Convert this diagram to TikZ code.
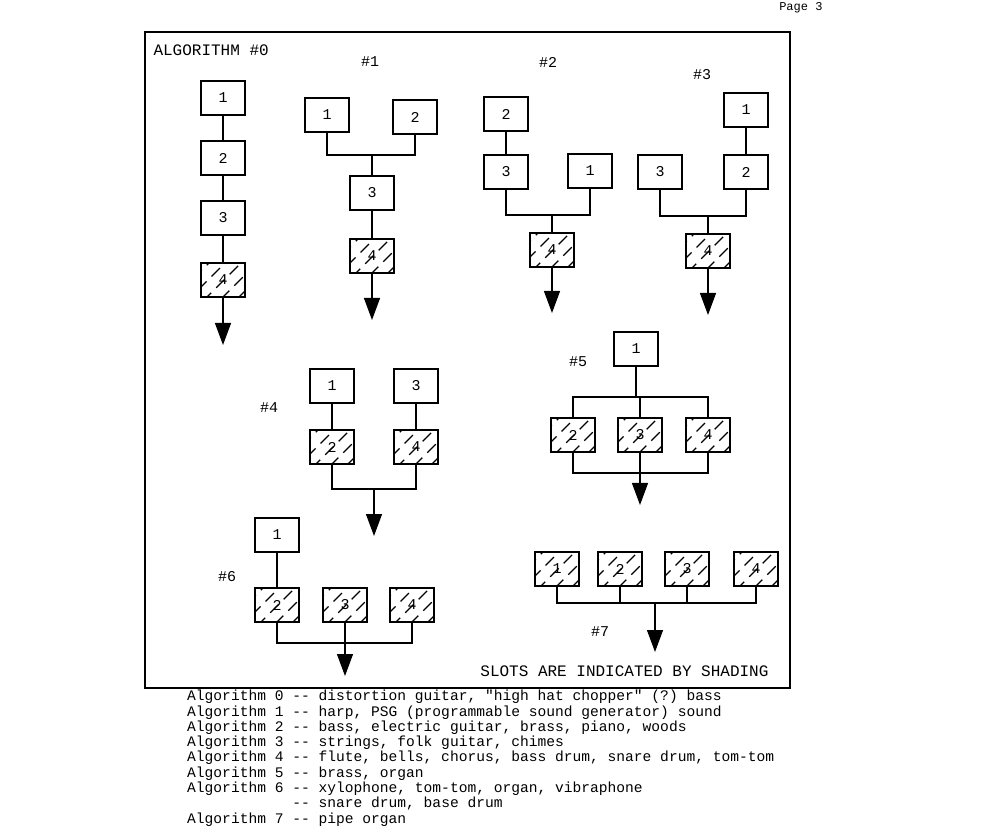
\documentclass[tikz,border=0pt]{standalone}
\usepackage{fontspec}
\setmonofont{Liberation Mono}
\usetikzlibrary{arrows.meta}
\begin{document}
\begin{tikzpicture}[x=1pt,y=-1pt,
  every node/.style={font=\fontsize{15}{15}\ttfamily},
  box/.style={draw,line width=1.2pt,minimum width=44pt,minimum height=34pt,inner sep=0pt},
  sbox/.style={box,path picture={
     \foreach \k in {-42,-26,...,50}{
       \draw[line width=1.1pt,dash pattern=on 12pt off 7pt,dash phase=\k] ([xshift=\k pt]path picture bounding box.south west) -- ++(40,-40);}}},
  ln/.style={line width=1.2pt},
  ar/.style={line width=1.2pt,-{Triangle[width=16pt,length=22pt]}}]
\useasboundingbox (0,0) rectangle (989,834);
\node[anchor=east,font=\fontsize{12}{12}\ttfamily] (pg) at (826,8) {Page 3};
\draw[line width=1.2pt] (145,32) rectangle (790,688);
\node[anchor=west,font=\fontsize{16}{16}\ttfamily] (t0) at (150,50) {ALGORITHM \#0};
% Alg 0
\node[box] (a1) at (223,98) {1};
\node[box] (a2) at (223,158) {2};
\node[box] (a3) at (223,218) {3};
\node[sbox] (a4) at (223,280) {4};
\coordinate (ae) at (223,345);
\draw[ln] (a1)--(a2) (a2)--(a3) (a3)--(a4);
\draw[ar] (a4)--(ae);
% Alg 1
\node (t1) at (370,62) {\#1};
\node[box] (b1) at (327,115) {1};
\node[box] (b2) at (415,117) {2};
\node[box] (b3) at (372,193) {3};
\node[sbox] (b4) at (372,256) {4};
\coordinate (be) at (372,320);
\draw[ln] (b1.south) |- (372,155) -| (b2.south);
\draw[ln] (372,155) -- (b3) (b3)--(b4);
\draw[ar] (b4)--(be);
% Alg 2
\node (t2) at (548,62) {\#2};
\node[box] (c2) at (506,114) {2};
\node[box] (c3) at (506,172) {3};
\node[box] (c1) at (590,171) {1};
\node[sbox] (c4) at (552,250) {4};
\coordinate (ce) at (552,313);
\draw[ln] (c2)--(c3);
\draw[ln] (c3.south) |- (552,215) -| (c1.south);
\draw[ln] (552,215) -- (c4);
\draw[ar] (c4)--(ce);
% Alg 3
\node (t3) at (702,75) {\#3};
\node[box] (d1) at (746,110) {1};
\node[box] (d3) at (660,172) {3};
\node[box] (d2) at (746,172) {2};
\node[sbox] (d4) at (708,251) {4};
\coordinate (de) at (708,315);
\draw[ln] (d1)--(d2);
\draw[ln] (d3.south) |- (708,216) -| (d2.south);
\draw[ln] (708,216) -- (d4);
\draw[ar] (d4)--(de);
% Alg 4
\node (t4) at (269,408) {\#4};
\node[box] (e1) at (332,386) {1};
\node[box] (e3) at (416,386) {3};
\node[sbox] (e2) at (332,447) {2};
\node[sbox] (e4) at (416,447) {4};
\coordinate (ee) at (374,536);
\draw[ln] (e1)--(e2) (e3)--(e4);
\draw[ln] (e2.south) |- (374,489) -| (e4.south);
\draw[ar] (374,489)--(ee);
% Alg 5
\node (t5) at (578,362) {\#5};
\node[box] (f1) at (636,349) {1};
\node[sbox] (f2) at (573,435) {2};
\node[sbox] (f3) at (640,435) {3};
\node[sbox] (f4) at (708,435) {4};
\coordinate (fe) at (640,505);
\draw[ln] (f1.south) -- (636,397);
\draw[ln] (f2.north) |- (636,397) -| (f4.north);
\draw[ln] (640,397) -- (f3.north);
\draw[ln] (f2.south) |- (640,473) -| (f4.south);
\draw[ln] (f3.south) -- (640,473);
\draw[ar] (640,473)--(fe);
% Alg 6
\node (t6) at (227,577) {\#6};
\node[box] (g1) at (277,535) {1};
\node[sbox] (g2) at (277,605) {2};
\node[sbox] (g3) at (345,605) {3};
\node[sbox] (g4) at (412,605) {4};
\coordinate (ge) at (345,676);
\draw[ln] (g1.south) -- (g2.north);
\draw[ln] (g2.south) |- (345,643) -| (g4.south);
\draw[ln] (g3.south) -- (345,643);
\draw[ar] (345,643)--(ge);
% Alg 7
\node[sbox] (h1) at (557,569) {1};
\node[sbox] (h2) at (620,569) {2};
\node[sbox] (h3) at (687,569) {3};
\node[sbox] (h4) at (756,569) {4};
\coordinate (he) at (655,652);
\draw[ln] (h1.south) |- (655,603) -| (h4.south);
\draw[ln] (h2.south) -- (620,603) (h3.south) -- (687,603);
\draw[ar] (655,603)--(he);
\node (t7) at (600,632) {\#7};
\node[anchor=east,font=\fontsize{16}{16}\ttfamily] (sl) at (772,671) {SLOTS ARE INDICATED BY SHADING};
% legend
\node[anchor=north west,align=left,inner sep=0pt,font=\fontsize{14.6}{15.3}\ttfamily] (lg) at (187,690) {%
Algorithm 0 -- distortion guitar, "high hat chopper" (?) bass\\
Algorithm 1 -- harp, PSG (programmable sound generator) sound\\
Algorithm 2 -- bass, electric guitar, brass, piano, woods\\
Algorithm 3 -- strings, folk guitar, chimes\\
Algorithm 4 -- flute, bells, chorus, bass drum, snare drum, tom-tom\\
Algorithm 5 -- brass, organ\\
Algorithm 6 -- xylophone, tom-tom, organ, vibraphone\\
\phantom{Algorithm 6} -- snare drum, base drum\\
Algorithm 7 -- pipe organ};
\end{tikzpicture}
\end{document}
